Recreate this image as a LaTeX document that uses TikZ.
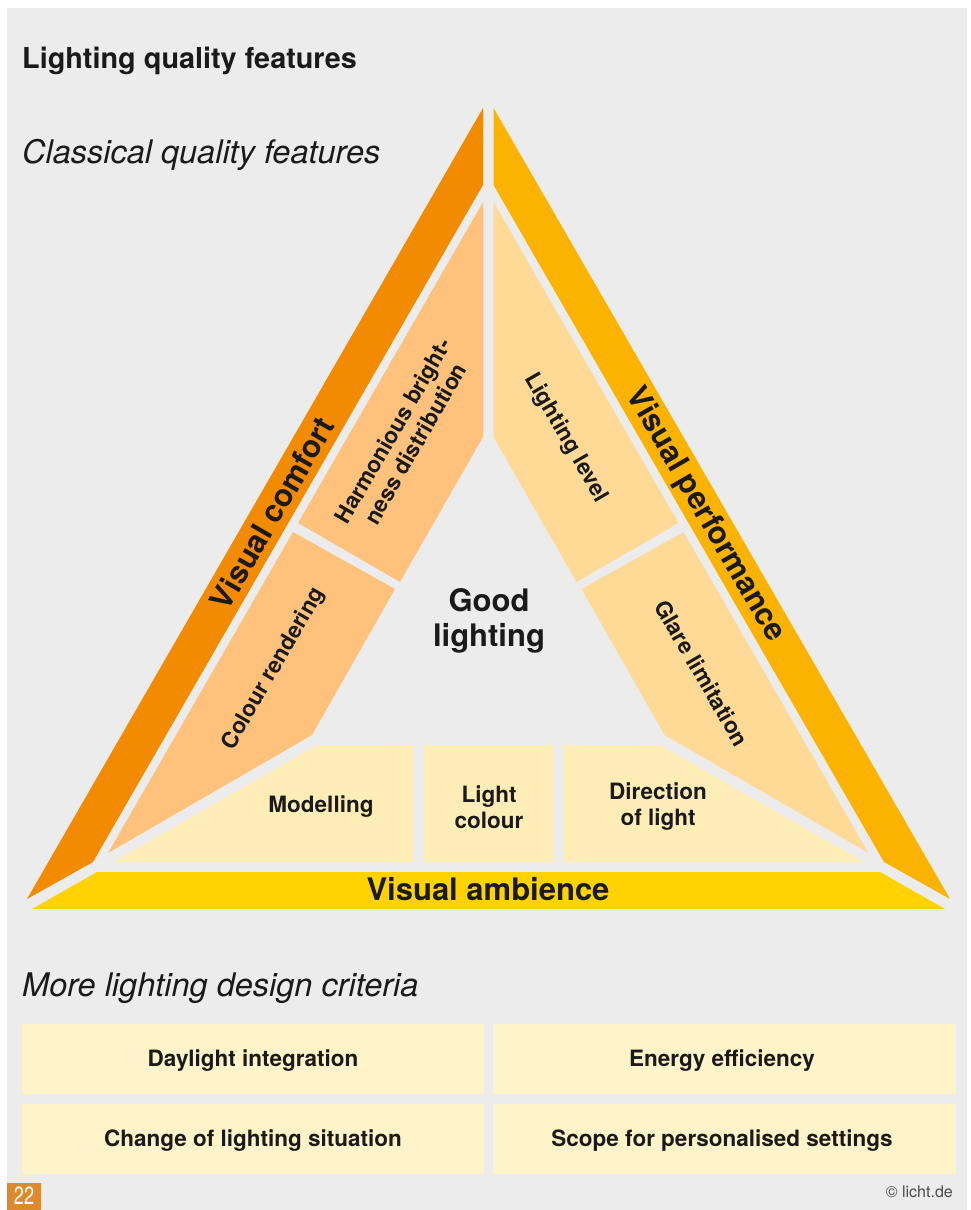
\documentclass[tikz,border=0pt]{standalone}
\usepackage{fontspec}
\setmainfont{TeX Gyre Heros}
\definecolor{bg}{HTML}{ECECEC}
\definecolor{cComfort}{HTML}{F28B00}
\definecolor{cPerf}{HTML}{FBB300}
\definecolor{cAmb}{HTML}{FED300}
\definecolor{cLeft}{HTML}{FFC27D}
\definecolor{cRight}{HTML}{FFDA97}
\definecolor{cBottom}{HTML}{FEEDB6}
\definecolor{cCrit}{HTML}{FFF3C9}
\definecolor{cPage}{HTML}{DD8A2C}
\definecolor{txt}{HTML}{1A1A1A}
\definecolor{txtgray}{HTML}{4A4A4A}
\begin{document}
\begin{tikzpicture}[x=1pt,y=-1pt,
  lbl/.style={font=\bfseries\fontsize{22.5}{26}\selectfont, text=txt, align=center, inner sep=0pt},
  biglbl/.style={font=\bfseries\fontsize{31}{35}\selectfont, text=txt, align=center, inner sep=0pt},
  heading/.style={font=\itshape\fontsize{32.5}{38}\selectfont, text=txt, anchor=base west, inner sep=0pt},
  critbox/.style={fill=cCrit, draw=none}]
\useasboundingbox (0,0) rectangle (971,1210);
\fill[white] (0,0) rectangle (971,1210);
\fill[bg] (7,8) rectangle (967,1210);

% titles
\node[font=\bfseries\fontsize{28.8}{34}\selectfont, text=txt, anchor=base west, inner sep=0pt] (title) at (22,68) {Lighting quality features};
\node[heading] (classical) at (22,163) {Classical quality features};

% outer strips
\fill[cComfort] (483,108) -- (483,185) -- (93,862) -- (27,899) -- cycle;
\fill[cPerf] (493.5,108) -- (493.5,185) -- (884,862) -- (950,899) -- cycle;
\fill[cAmb] (32,909) -- (97,872) -- (880,872) -- (945,909) -- cycle;

% inner pieces
\fill[cLeft] (483,202) -- (483,437) -- (400,582) -- (298,523) -- cycle;
\fill[cLeft] (293,532) -- (395,589) -- (312,735) -- (108,853) -- cycle;
\fill[cRight] (493.5,202) -- (493.5,437) -- (576.5,582) -- (678.5,523) -- cycle;
\fill[cRight] (683.5,532) -- (581.5,589) -- (664.5,735) -- (868.5,853) -- cycle;
\fill[cBottom] (113,862) -- (317,745) -- (413,745) -- (413,862) -- cycle;
\fill[cBottom] (423,745) -- (554,745) -- (554,862) -- (423,862) -- cycle;
\fill[cBottom] (564,745) -- (660,745) -- (863.5,862) -- (564,862) -- cycle;

% labels in triangle
\node[biglbl, rotate=60] (comfort) at (272,513) {Visual comfort};
\node[biglbl, rotate=-60] (perf) at (705,515) {Visual performance};
\node[biglbl] (amb) at (488,889) {Visual ambience};
\node[biglbl] (good) at (489,621) {Good\\lighting};
\node[lbl, rotate=60] (harm) at (404,437) {Harmonious bright-\\ness distribution};
\node[lbl, rotate=60] (colour) at (274,669) {Colour rendering};
\node[lbl, rotate=-60] (level) at (566,438) {Lighting level};
\node[lbl, rotate=-60] (glare) at (702,673) {Glare limitation};
\node[lbl] (model) at (321,807) {Modelling};
\node[lbl] (lcol) at (489,807) {Light\\colour};
\node[lbl] (dir) at (658,807) {Direction\\of light};

% more criteria
\node[heading] (more) at (22,996) {More lighting design criteria};
\fill[critbox] (22,1024) rectangle (484,1094);
\fill[critbox] (493,1024) rectangle (956,1094);
\fill[critbox] (22,1104) rectangle (484,1174);
\fill[critbox] (493,1104) rectangle (956,1174);
\node[lbl] (day) at (253,1061) {Daylight integration};
\node[lbl] (energy) at (722,1061) {Energy efficiency};
\node[lbl] (change) at (253,1141) {Change of lighting situation};
\node[lbl] (scope) at (722,1141) {Scope for personalised settings};

% footer
\fill[cPage] (7,1183) rectangle (41,1210);
\node[font=\fontsize{25}{27}\selectfont, text=white, xscale=0.72, inner sep=0pt] (page) at (24,1196) {22};
\node[font=\fontsize{16}{18}\selectfont, text=txtgray, anchor=base east, inner sep=0pt] (copy) at (953,1197) {© licht.de};
\end{tikzpicture}
\end{document}
